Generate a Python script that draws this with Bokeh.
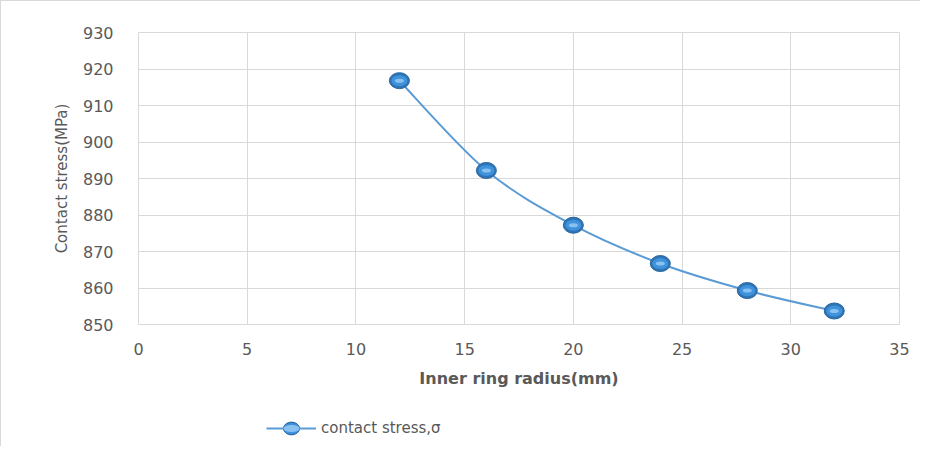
import numpy as np
from bokeh.plotting import figure
from bokeh.layouts import column
from bokeh.models import (Legend, LegendItem, ColumnDataSource, Range1d)
from bokeh.embed import file_html
from bokeh.resources import INLINE

# ---- data ----
radius_mm = [12, 16, 20, 24, 28, 32]
contact_stress = [916.8, 892.2, 877.2, 866.7, 859.3, 853.7]
x_ticks = [0, 5, 10, 15, 20, 25, 30, 35]
y_ticks = [850, 860, 870, 880, 890, 900, 910, 920, 930]
series_name = "contact stress,σ"
x_title = "Inner ring radius(mm)"
y_title = "Contact stress(MPa)"

GRAY_TXT = "#595959"
GRID = "#d9d9d9"
LINE = "#5b9bd5"
FONT = "DejaVu Sans"

p = figure(width=919, height=400, output_backend="svg", toolbar_location=None,
           x_range=Range1d(0, 35), y_range=Range1d(850, 930),
           min_border_left=137, min_border_right=21, min_border_top=31,
           min_border_bottom=77)
p.outline_line_color = GRID
p.background_fill_color = "white"
p.border_fill_color = "white"

# smooth curve (Catmull-Rom style bezier between data points, like Excel smoothing)
xa = np.array(radius_mm, dtype=float)
ya = np.array(contact_stress, dtype=float)
n = len(xa)
idx = np.arange(n - 1)
prev = np.clip(idx - 1, 0, n - 1)
nxt = np.clip(idx + 2, 0, n - 1)
bez = ColumnDataSource(dict(
    x0=xa[idx], y0=ya[idx], x1=xa[idx + 1], y1=ya[idx + 1],
    cx0=xa[idx] + (xa[idx + 1] - xa[prev]) / 6, cy0=ya[idx] + (ya[idx + 1] - ya[prev]) / 6,
    cx1=xa[idx + 1] - (xa[nxt] - xa[idx]) / 6, cy1=ya[idx + 1] - (ya[nxt] - ya[idx]) / 6,
))
p.bezier(x0="x0", y0="y0", x1="x1", y1="y1", cx0="cx0", cy0="cy0", cx1="cx1", cy1="cy1",
         source=bez, line_color=LINE, line_width=2)

src = ColumnDataSource(dict(x=radius_mm, y=contact_stress))


def markers(fig, source):
    a = fig.ellipse(x="x", y="y", width=20, height=16, width_units="screen", height_units="screen",
                    source=source, fill_color="#2f74b5", line_color="#2a66a0", line_width=1)
    b = fig.ellipse(x="x", y="y", width=16, height=11, width_units="screen", height_units="screen",
                    source=source, fill_color="#3f93dc", line_color=None)
    c = fig.ellipse(x="x", y="y", width=9, height=4, width_units="screen", height_units="screen",
                    source=source, fill_color="#9ccdf5", line_color=None, fill_alpha=0.8)
    return [a, b, c]


markers(p, src)

# axes
for ax in (p.xaxis[0], p.yaxis[0]):
    ax.axis_line_color = None
    ax.major_tick_line_color = None
    ax.minor_tick_line_color = None
    ax.major_label_text_font = FONT
    ax.major_label_text_font_size = "16px"
    ax.major_label_text_color = GRAY_TXT
    ax.axis_label_text_color = GRAY_TXT
    ax.axis_label_text_font = FONT
    ax.axis_label_text_font_style = "normal"

p.xaxis.ticker = x_ticks
p.yaxis.ticker = y_ticks
p.xaxis.axis_label = x_title
p.xaxis.axis_label_text_font_style = "bold"
p.xaxis.axis_label_text_font_size = "16px"
p.xaxis.major_label_standoff = 12
p.xaxis.axis_label_standoff = 11
p.yaxis.axis_label = y_title
p.yaxis.axis_label_text_font_size = "15px"
p.yaxis.major_label_standoff = 19
p.yaxis.axis_label_standoff = 9

p.xgrid.ticker = x_ticks
p.ygrid.ticker = y_ticks
p.grid.grid_line_color = GRID
p.grid.grid_line_width = 1

# ---- legend strip below the chart (series renderers kept out of its view) ----
lg = figure(width=919, height=45, output_backend="svg", toolbar_location=None,
            x_axis_type=None, y_axis_type=None, x_range=Range1d(0, 1), y_range=Range1d(0, 1),
            min_border=0)
lg.outline_line_color = None
lg.grid.visible = False
l_line = lg.line(x="x", y="y", source=src, line_color=LINE, line_width=2)
l_marks = markers(lg, src)
legend = Legend(items=[LegendItem(label=series_name, renderers=[l_line] + l_marks)],
                location=(128, 8), orientation="horizontal",
                glyph_width=50, glyph_height=20, label_height=20, label_standoff=5,
                padding=0, margin=0, border_line_color=None, background_fill_alpha=0,
                label_text_font=FONT, label_text_font_size="15px", label_text_color=GRAY_TXT)
lg.add_layout(legend, "center")

layout = column(p, lg, spacing=0,
                styles={"border-left": "1px solid #d9d9d9", "border-top": "1px solid #d9d9d9"})

open("out.html", "w").write(file_html(layout, INLINE))
